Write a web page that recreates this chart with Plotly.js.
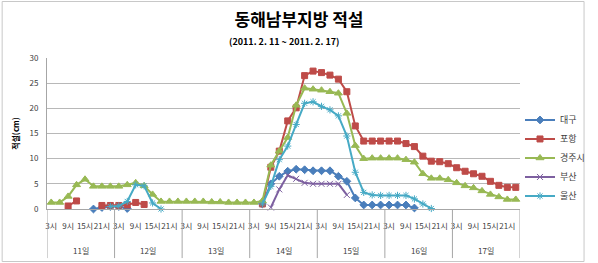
<!DOCTYPE html>
<html>
<head>
<meta charset="utf-8">
<script src="https://cdn.plot.ly/plotly-3.0.1.min.js"></script>
<style>
  html, body { margin: 0; padding: 0; background: #fff; }
  #chart { width: 598px; height: 263px; }
</style>
</head>
<body>
<div id="chart"></div>
<script>
// Observation days and 3-hourly readings within each day
const days = ['11일', '12일', '13일', '14일', '15일', '16일', '17일'];
const hours = ['3시', '6시', '9시', '12시', '15시', '18시', '21시', '24시'];
const labeledHours = ['3시', '9시', '15시', '21시'];

// Snow depth (cm), one value per reading; null = no observation
const daegu = [
  null, null, null, null, null, 0.0, 0.3, 0.5,
  0.5, 0.1, null, null, null, null, null, null,
  null, null, null, null, null, null, null, null,
  null, 1.0, 5.0, 6.5, 7.5, 7.9, 7.8, 7.6,
  7.6, 7.6, 6.5, 5.5, 2.2, 0.8, 0.8, 0.8,
  0.8, 0.8, 0.8, 0.2, null, null, null, null,
  null, null, null, null, null, null, null, null
];
const pohang = [
  null, null, 0.6, 1.6, null, null, 0.7, 0.7,
  0.7, 0.8, 1.3, 0.9, null, null, null, null,
  null, null, null, null, null, null, null, null,
  null, 1.0, 8.3, 11.5, 17.5, 20.1, 26.5, 27.4,
  27.1, 26.6, 25.8, 23.3, 16.5, 13.5, 13.5, 13.5,
  13.5, 13.5, 13.0, 12.4, 10.5, 9.5, 9.4, 9.0,
  8.2, 7.5, 7.0, 6.5, 5.5, 4.7, 4.3, 4.3
];
const gyeongju = [
  1.3, 1.3, 2.5, 4.8, 5.9, 4.5, 4.5, 4.5,
  4.5, 4.8, 5.2, 4.6, 2.9, 1.5, 1.5, 1.5,
  1.5, 1.5, 1.5, 1.4, 1.4, 1.3, 1.3, 1.3,
  1.3, 1.6, 8.7, 11.5, 14.2, 20.6, 24.0, 23.8,
  23.6, 23.3, 23.0, 19.0, 12.6, 10.0, 10.1, 10.1,
  10.1, 10.1, 9.8, 9.3, 7.0, 6.1, 6.1, 5.8,
  5.2, 4.6, 4.2, 3.6, 2.9, 2.4, 1.9, 1.9
];
const busan = [
  null, null, null, null, null, null, null, null,
  null, null, null, null, null, null, null, null,
  null, null, null, null, null, null, null, null,
  null, null, 0.3, 3.9, 6.7, 6.0, 5.2, 5.0,
  5.0, 5.0, 5.0, 2.8, null, null, null, null,
  null, null, null, null, null, null, null, null,
  null, null, null, null, null, null, null, null
];
const ulsan = [
  null, null, null, null, null, null, null, 0.5,
  0.6, 1.5, 4.8, 4.6, 1.2, 0.0, null, null,
  null, null, null, null, null, null, null, null,
  null, 1.0, 4.5, 9.8, 12.5, 16.8, 21.0, 21.3,
  20.4, 19.7, 18.5, 14.5, 7.3, 3.3, 2.8, 2.7,
  2.7, 2.7, 2.7, 2.0, 1.0, 0.1, null, null,
  null, null, null, null, null, null, null, null
];

// Position of every reading along the time axis
const xs = [];
const tickVals = [];
const tickText = [];
days.forEach((d, di) => {
  hours.forEach((h, hi) => {
    const k = di * hours.length + hi;
    xs.push(k);
    if (labeledHours.includes(h)) { tickVals.push(k); tickText.push(h); }
  });
});

const FONT = '"Noto Sans CJK KR", "Noto Sans", sans-serif';

const styles = [
  { name: '대구',   y: daegu,    color: '#4A7EBB', symbol: 'diamond',       size: 6, lw: 1 },
  { name: '포항',   y: pohang,   color: '#BE4B48', symbol: 'square',        size: 6, lw: 1 },
  { name: '경주시', y: gyeongju, color: '#98B954', symbol: 'triangle-up',   size: 7, lw: 1 },
  { name: '부산',   y: busan,    color: '#7D60A0', symbol: 'x-thin-open',   size: 6, lw: 1 },
  { name: '울산',   y: ulsan,    color: '#46AAC5', symbol: 'asterisk-open', size: 6, lw: 1 }
];

const traces = styles.map(s => ({
  type: 'scatter',
  mode: 'lines+markers',
  name: s.name,
  x: xs,
  y: s.y,
  connectgaps: false,
  line: { color: s.color, width: 2 },
  marker: { symbol: s.symbol, size: s.size, color: s.color,
            line: { color: s.color, width: s.lw } },
  cliponaxis: false
}));

// Day group labels and dividers under the hour labels
const annotations = days.map((d, di) => ({
  x: di * hours.length + (hours.length - 1) / 2,
  xref: 'x', y: -0.272, yref: 'paper',
  text: d, showarrow: false,
  font: { family: FONT, size: 8, color: '#404040' },
  xanchor: 'center', yanchor: 'middle'
}));
annotations.push({
  x: 0.5, xref: 'paper', y: 1.108, yref: 'paper',
  text: '<b>(2011. 2. 11 ~ 2011. 2. 17)</b>', showarrow: false,
  font: { family: FONT, size: 9, color: '#000' },
  xanchor: 'center', yanchor: 'middle'
});

const shapes = [];
for (let di = 0; di <= days.length; di++) {
  shapes.push({
    type: 'line', xref: 'x', yref: 'paper',
    x0: di * hours.length - 0.5, x1: di * hours.length - 0.5,
    y0: 0, y1: -0.325,
    line: { color: '#a6a6a6', width: 1 }
  });
}
// Outer chart frame
shapes.push({
  type: 'rect', xref: 'paper', yref: 'paper',
  x0: (1.5 - 47) / 480, x1: (592 - 47) / 480,
  y0: (209 - 261.5) / 151, y1: (209 - 1.5) / 151,
  line: { color: '#c8c8c8', width: 1 }
});

const layout = {
  width: 598, height: 263,
  margin: { l: 47, r: 71, t: 58, b: 54 },
  paper_bgcolor: '#fff', plot_bgcolor: '#fff',
  font: { family: FONT, size: 8, color: '#404040' },
  title: {
    text: '<b>동해남부지방 적설</b>',
    font: { family: FONT, size: 17, color: '#000' },
    x: 0.5, xanchor: 'center', y: 1 - 20 / 263, yanchor: 'middle', yref: 'container'
  },
  xaxis: {
    range: [-0.5, xs.length - 0.5],
    tickmode: 'array', tickvals: tickVals, ticktext: tickText,
    tickangle: 0,
    ticks: '', showgrid: false, zeroline: false,
    showline: true, linecolor: '#a6a6a6', linewidth: 1,
    tickfont: { family: FONT, size: 8, color: '#404040' },
    ticklabelstandoff: 9,
    fixedrange: true
  },
  yaxis: {
    range: [0, 30], dtick: 5, tick0: 0,
    ticks: '', showgrid: true, gridcolor: '#b8b8b8', gridwidth: 1,
    zeroline: false, showline: true, linecolor: '#a6a6a6', linewidth: 1,
    tickfont: { family: FONT, size: 8, color: '#404040' },
    ticklabelstandoff: 6,
    title: { text: '<b>적설(cm)</b>', font: { family: FONT, size: 8, color: '#000' }, standoff: 8 },
    fixedrange: true
  },
  legend: {
    xref: 'container', x: 520 / 598, xanchor: 'left',
    y: 0.338, yanchor: 'middle',
    font: { family: FONT, size: 9, color: '#404040' },
    itemwidth: 30, tracegroupgap: 0,
    bgcolor: 'rgba(0,0,0,0)'
  },
  showlegend: true,
  annotations: annotations,
  shapes: shapes
};

Plotly.newPlot('chart', traces, layout, { displayModeBar: false, staticPlot: true });
</script>
</body>
</html>
